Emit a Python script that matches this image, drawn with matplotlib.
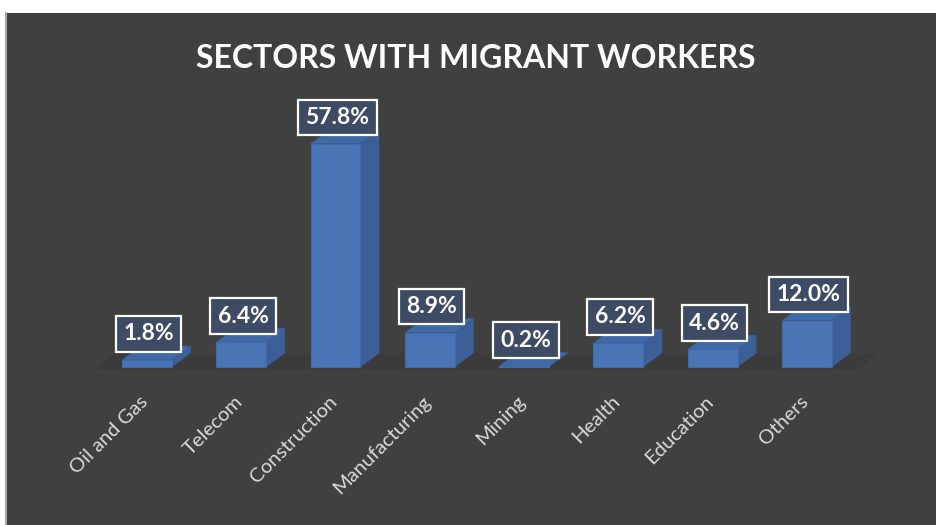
import matplotlib.pyplot as plt
from matplotlib.patches import Polygon

# sector shares of migrant workers, in percent
sectors = ["Oil and Gas", "Telecom", "Construction", "Manufacturing",
           "Mining", "Health", "Education", "Others"]
shares = [1.8, 6.4, 57.8, 8.9, 0.2, 6.2, 4.6, 12.0]

BG = "#404040"
FRONT = "#4a74b3"
SIDE = "#3b5f96"
TOP = "#4169a6"
BOX = "#3d4b64"

bar_w = 0.53
dx, dy = 0.20, 3.6   # fake depth for the 3d look, in data units

fig = plt.figure(figsize=(9.36, 5.25), dpi=100, facecolor="white")
ax = fig.add_axes([6 / 936, 0, 930 / 936, 512 / 525])
ax.set_facecolor(BG)
ax.set_xlim(-1.495, 8.37)
ax.set_ylim(-40.9, 91.7)
ax.set_xticks([])
ax.set_yticks([])
for side in ["top", "right", "bottom"]:
    ax.spines[side].set_visible(False)
ax.spines["left"].set_color("#a8a8a8")
ax.spines["left"].set_linewidth(1.5)

# floor under the bars
n = len(sectors)
floor = Polygon([(-0.55, -0.6), (n - 0.45, -0.6), (n - 0.45 + dx, dy),
                 (-0.55 + dx, dy)], closed=True, facecolor="#3b3b3b",
                edgecolor="none", zorder=1)
ax.add_patch(floor)

xs = list(range(n))
for x, v in zip(xs, shares):
    l, r = x - bar_w / 2, x + bar_w / 2
    side_face = Polygon([(r, 0), (r + dx, dy), (r + dx, v + dy), (r, v)],
                        closed=True, facecolor=SIDE, edgecolor="none", zorder=2)
    top_face = Polygon([(l, v), (r, v), (r + dx, v + dy), (l + dx, v + dy)],
                       closed=True, facecolor=TOP, edgecolor="#3a5c92",
                       linewidth=0.6, zorder=3)
    ax.add_patch(side_face)
    ax.add_patch(top_face)

ax.bar(xs, shares, width=bar_w, color=FRONT, edgecolor="#416aa8",
       linewidth=0.8, zorder=4)

# value boxes above each bar
for x, v in zip(xs, shares):
    ax.text(x + 0.02, v + 6.8, f"{v:.1f}%", ha="center", va="center",
            family="Lato", fontweight="bold", fontsize=16.5, color="white",
            zorder=6,
            bbox=dict(boxstyle="square,pad=0.32", facecolor=BOX,
                      edgecolor="white", linewidth=1.6))

# category names under the floor
for x, name in zip(xs, sectors):
    ax.text(x - 0.08, -6.6, name, rotation=45, rotation_mode="anchor",
            ha="right", va="top", family="Lato", fontsize=14.5,
            color="#d9d9d9", zorder=5)

fig.text(476 / 936, 1 - 58 / 525, "SECTORS WITH MIGRANT WORKERS",
         ha="center", va="center", family="Lato", fontweight="bold",
         fontsize=23, color="white")

fig.savefig("out.png", dpi=100, facecolor=fig.get_facecolor())
